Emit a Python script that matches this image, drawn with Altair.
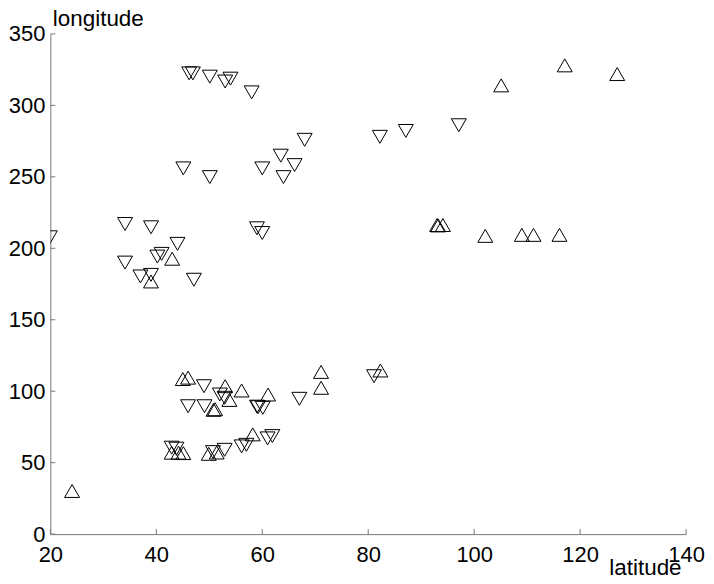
import altair as alt
import pandas as pd

# upward triangles (latitude, longitude)
up_lat = [24.1, 45.0, 46.0, 50.8, 51.1, 53.0, 53.8, 56.1, 61.1, 71.1, 71.1, 82.3,
          58.2, 42.9, 44.2, 45.1, 49.9, 51.4, 43.0, 39.0, 93.0, 93.2, 94.1,
          102.1, 109.0, 111.2, 116.1, 105.1, 117.1, 127.0]
up_lon = [30.2, 108.5, 109.5, 87.0, 87.4, 103.5, 93.9, 100.5, 97.7, 113.5, 102.4, 114.5,
          69.8, 57.0, 57.0, 56.7, 56.2, 57.1, 192.7, 176.8, 216.3, 216.0, 216.3,
          208.7, 209.4, 209.4, 209.4, 314.0, 328.0, 321.9]

# downward triangles (latitude, longitude)
down_lat = [46.2, 46.9, 50.1, 53.0, 54.0, 58.0, 68.0, 82.2, 87.1, 97.1,
            63.5, 66.1, 60.0, 64.0, 50.1, 45.1, 59.0, 60.0, 19.9, 34.1,
            39.0, 44.0, 40.2, 41.0, 34.1, 37.0, 39.0, 47.1, 49.0, 46.0,
            49.1, 52.0, 52.9, 59.2, 59.0, 60.1, 67.0, 81.1, 57.0, 56.1,
            61.0, 61.9, 52.9, 50.7, 42.9, 43.8]
down_lon = [322.4, 322.4, 320.1, 316.7, 318.7, 309.1, 275.9, 278.0, 282.1, 286.1,
            264.8, 258.2, 255.9, 249.8, 249.8, 255.9, 214.0, 210.7, 207.7, 217.0,
            214.7, 203.1, 194.2, 196.1, 190.0, 180.3, 181.4, 178.0, 103.5, 89.5,
            89.5, 97.7, 95.4, 88.8, 89.2, 88.4, 94.7, 110.5, 62.5, 61.4,
            67.0, 68.6, 59.0, 57.4, 60.5, 59.8]

x_ticks = [20, 40, 60, 80, 100, 120, 140]
y_ticks = [0, 50, 100, 150, 200, 250, 300, 350]

W, H = 638, 502
FONT = "Liberation Sans"
AXIS_GRAY = "#777777"

df = pd.DataFrame({
    "lat": up_lat + down_lat,
    "lon": up_lon + down_lon,
    "dir": ["up"] * len(up_lat) + ["down"] * len(down_lat),
})
xt = pd.DataFrame({"lat": x_ticks})
yt = pd.DataFrame({"lon": y_ticks})

xs = alt.Scale(domain=[20, 140], nice=False, zero=False)
ys = alt.Scale(domain=[0, 350], nice=False, zero=False)

x_axis = alt.Axis(
    values=x_ticks, title="latitude", labelPadding=10,
    titleX=633, titleY=41, titleAlign="right", titleBaseline="alphabetic",
)
y_axis = alt.Axis(
    values=y_ticks, title="longitude", labelPadding=5.5,
    titleAngle=0, titleX=2, titleY=-8, titleAlign="left",
    titleBaseline="alphabetic",
)

points = alt.Chart(df).mark_point(
    filled=False, size=225, color="black", strokeWidth=1, opacity=1, clip=True
).encode(
    x=alt.X("lat:Q", scale=xs, axis=x_axis),
    y=alt.Y("lon:Q", scale=ys, axis=y_axis),
    shape=alt.Shape("dir:N", scale=alt.Scale(domain=["up", "down"],
                    range=["triangle-up", "triangle-down"]), legend=None),
)

ytick_marks = alt.Chart(yt).mark_rule(color=AXIS_GRAY, strokeWidth=1).encode(
    y=alt.Y("lon:Q", scale=ys, axis=y_axis),
    x=alt.value(0),
    x2=alt.value(5),
)
xtick_marks = alt.Chart(xt).mark_rule(color=AXIS_GRAY, strokeWidth=1).encode(
    x=alt.X("lat:Q", scale=xs, axis=x_axis),
    y=alt.value(H),
    y2=alt.value(H - 5),
)

chart = alt.layer(points, ytick_marks, xtick_marks).properties(
    width=W, height=H,
    autosize=alt.AutoSizeParams(type="none"),
    padding={"left": 42.5, "top": 25, "right": 20, "bottom": 41},
).configure_view(stroke=None).configure_axis(
    grid=False, ticks=False, domainColor=AXIS_GRAY, domainWidth=1,
    labelFont=FONT, labelFontSize=22, labelColor="black", labelFlush=False,
    labelOverlap=False,
    titleFont=FONT, titleFontSize=22.5, titleFontWeight="normal", titleColor="black",
)

chart.save("out.html", embed_options={"renderer": "svg", "actions": False})
